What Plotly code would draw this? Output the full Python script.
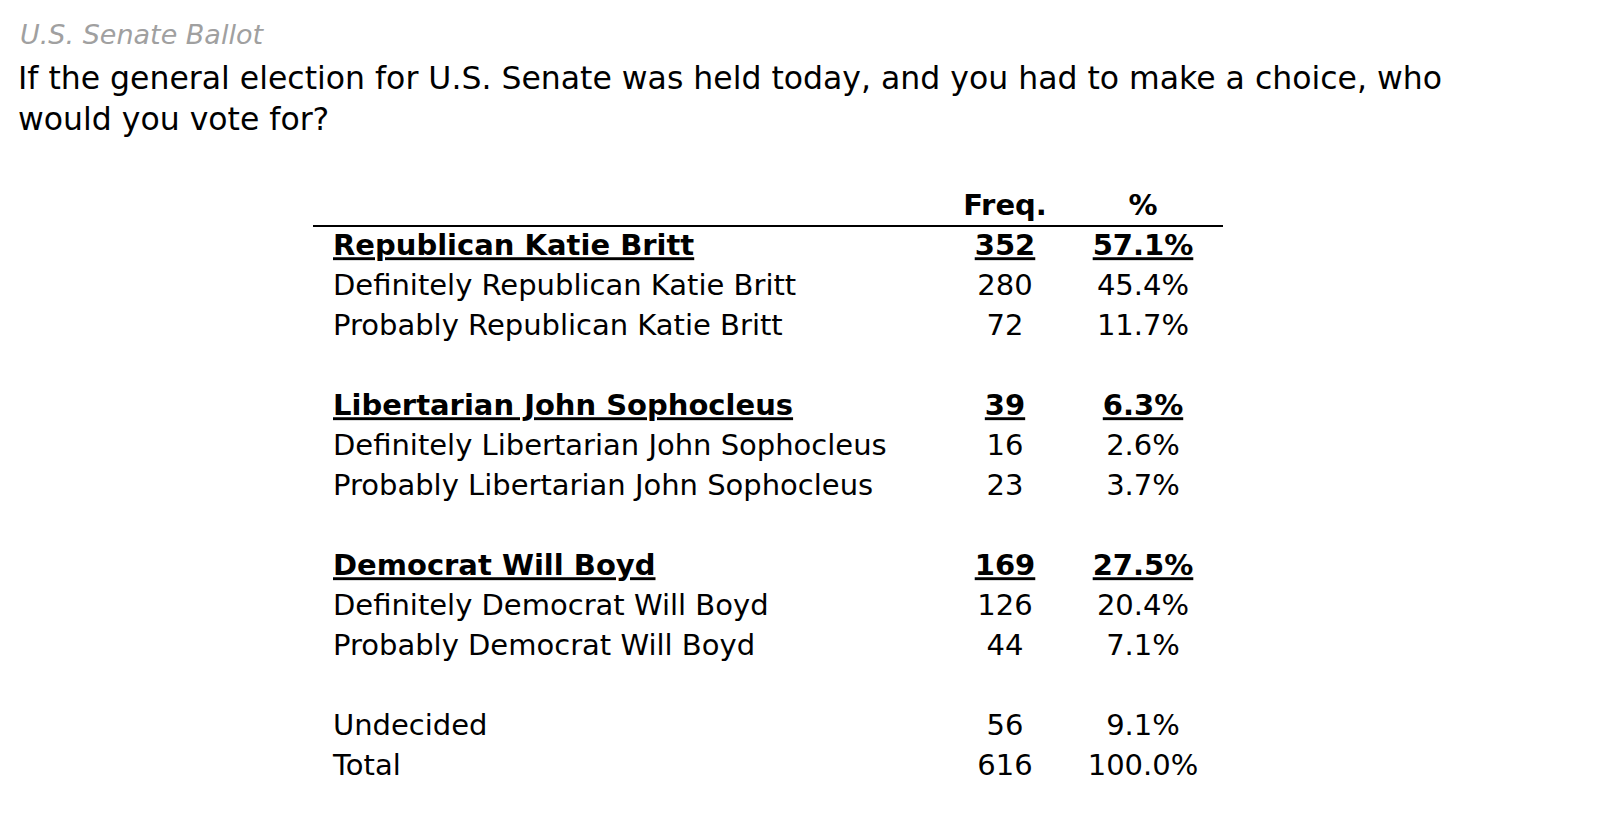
import plotly.graph_objects as go

labels = ["Republican Katie Britt", "Definitely Republican Katie Britt", "Probably Republican Katie Britt", "",
          "Libertarian John Sophocleus", "Definitely Libertarian John Sophocleus", "Probably Libertarian John Sophocleus", "",
          "Democrat Will Boyd", "Definitely Democrat Will Boyd", "Probably Democrat Will Boyd", "",
          "Undecided", "Total"]
freq = ["352", "280", "72", "", "39", "16", "23", "", "169", "126", "44", "", "56", "616"]
pct = ["57.1%", "45.4%", "11.7%", "", "6.3%", "2.6%", "3.7%", "", "27.5%", "20.4%", "7.1%", "", "9.1%", "100.0%"]
bold_rows = [0, 4, 8]

FONT = "DejaVu Sans, sans-serif"
rows = list(range(len(labels)))

def fmt(items):
    return ["<b><u>%s</u></b>" % t if i in bold_rows else t for i, t in enumerate(items)]

fig = go.Figure()
fig.add_trace(go.Scatter(x=[325] * len(rows), y=rows, mode="text", text=fmt(labels),
                         textposition="middle right", textfont=dict(size=29, color="black", family=FONT),
                         hoverinfo="skip"))
fig.add_trace(go.Scatter(x=[997] * len(rows), y=rows, mode="text", text=fmt(freq),
                         textposition="middle center", textfont=dict(size=29, color="black", family=FONT),
                         hoverinfo="skip"))
fig.add_trace(go.Scatter(x=[1135] * len(rows), y=rows, mode="text", text=fmt(pct),
                         textposition="middle center", textfont=dict(size=29, color="black", family=FONT),
                         hoverinfo="skip"))
# headers
fig.add_trace(go.Scatter(x=[997, 1135], y=[-1, -1], mode="text", text=["<b>Freq.</b>", "<b>%</b>"],
                         textposition="middle center", textfont=dict(size=29, color="black", family=FONT),
                         hoverinfo="skip"))

fig.add_shape(type="line", x0=305, x1=1215, y0=-0.55, y1=-0.55, line=dict(color="black", width=2))

fig.add_annotation(x=10, y=26, xref="paper", yref="paper", text="<i>U.S. Senate Ballot</i>",
                   showarrow=False, xanchor="left", yanchor="middle",
                   font=dict(size=27, color="#a0a0a0", family=FONT))
fig.add_annotation(x=8, y=90, xref="paper", yref="paper",
                   text="If the general election for U.S. Senate was held today, and you had to make a choice, who<br>would you vote for?",
                   showarrow=False, xanchor="left", yanchor="middle", align="left",
                   font=dict(size=31.5, color="black", family=FONT))

# convert pixel positions to paper fractions
for a in fig.layout.annotations:
    a.x = a.x / 1598
    a.y = 1 - a.y / 828

fig.update_layout(
    width=1598, height=828, margin=dict(l=0, r=0, t=0, b=0),
    plot_bgcolor="white", paper_bgcolor="white", showlegend=False,
    xaxis=dict(range=[0, 1598], visible=False, fixedrange=True),
    yaxis=dict(range=[(828 - 240) / 40, -240 / 40], visible=False, fixedrange=True),
)
fig.write_html("out.html")
